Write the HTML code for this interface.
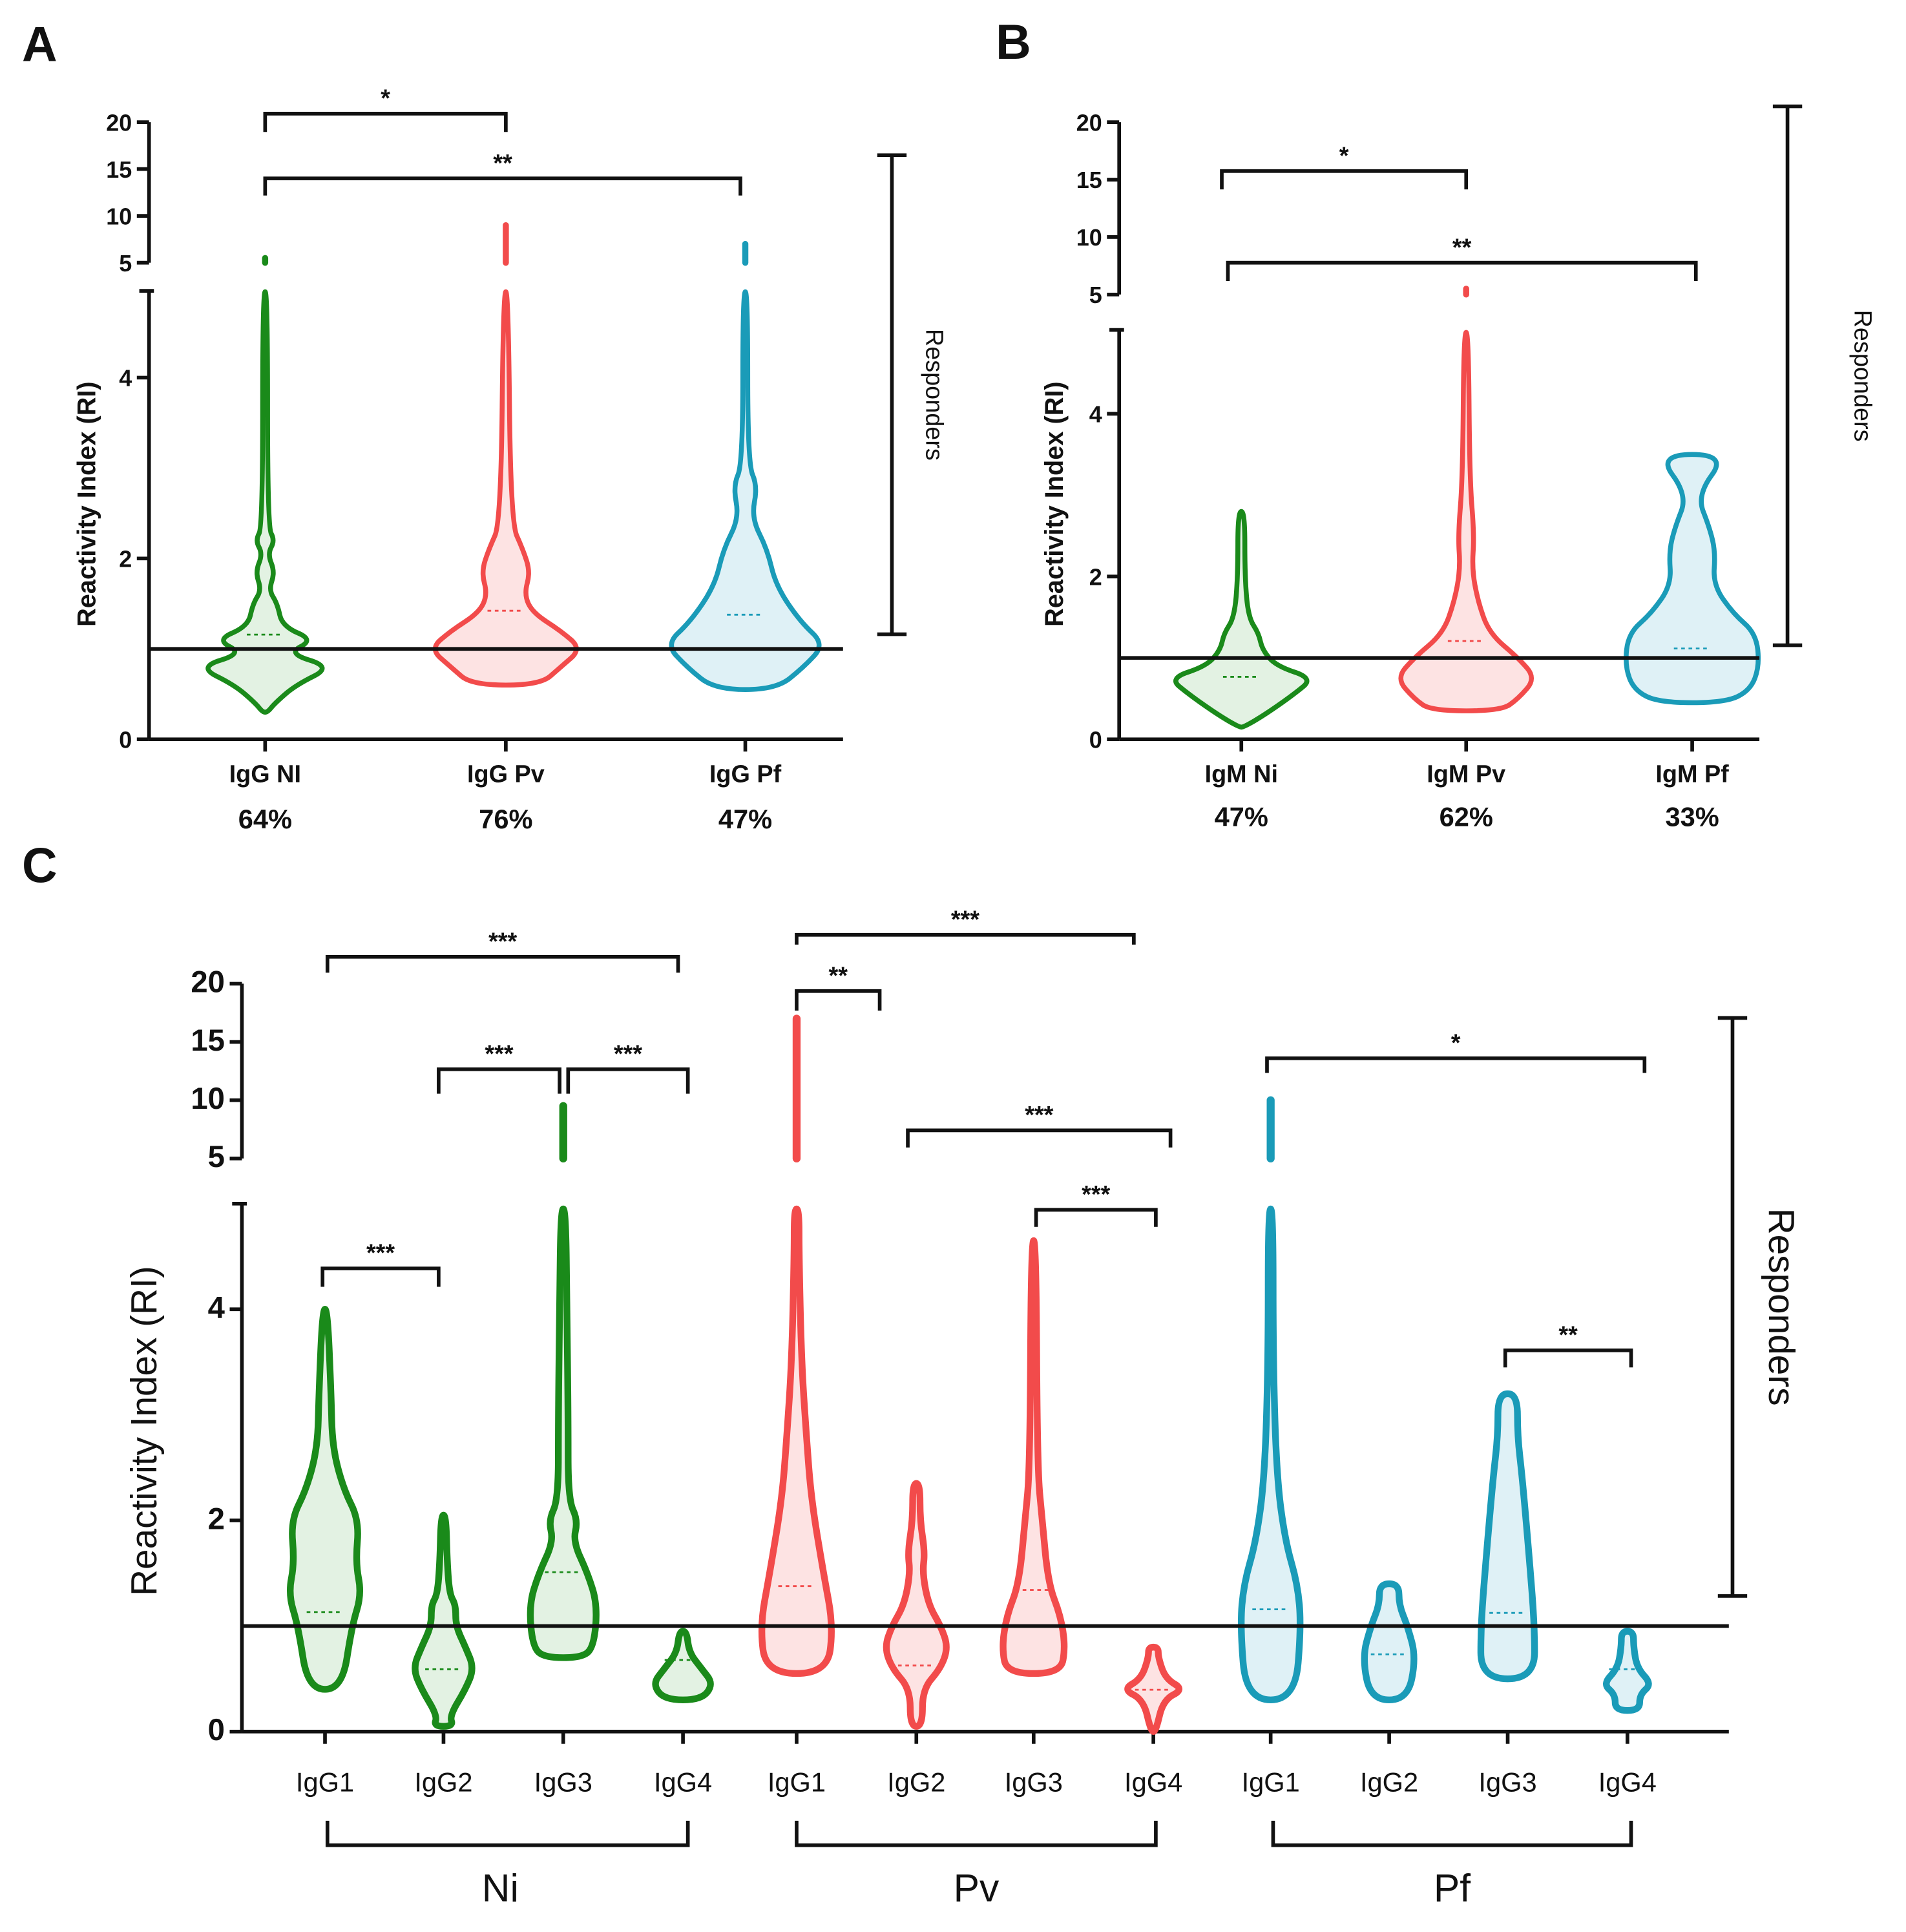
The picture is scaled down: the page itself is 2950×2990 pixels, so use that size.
<!DOCTYPE html>
<html><head><meta charset="utf-8"><style>
html,body{margin:0;padding:0;background:#fff}
svg{display:block}
text{font-family:"Liberation Sans",Arial,sans-serif}
</style></head><body>
<svg id="fig" width="2950" height="2990" viewBox="0 0 1560 1581" preserveAspectRatio="none" xmlns="http://www.w3.org/2000/svg"></svg>
<script>
// ---- data ----
const catsA = ["IgG NI","IgG Pv","IgG Pf"];
const pctA = ["64%","76%","47%"];
const catsB = ["IgM Ni","IgM Pv","IgM Pf"];
const pctB = ["47%","62%","33%"];
const catsC = ["IgG1","IgG2","IgG3","IgG4","IgG1","IgG2","IgG3","IgG4","IgG1","IgG2","IgG3","IgG4"];
const groupsC = ["Ni","Pv","Pf"];
const upperTicks = [5,10,15,20];
const lowerTicks = [0,2,4];
// violin profiles: [value, relative half-width]
const violA = [
 [[0.3,2],[0.4,8],[0.6,25],[0.8,55],[0.95,18],[1.1,40],[1.25,14],[1.5,10],[1.65,3],[1.85,8],[2.05,2],[2.2,8],[2.35,2],[4.95,2]],
 [[0.6,28],[0.8,45],[1.0,62],[1.2,45],[1.4,22],[1.6,15],[1.85,20],[2.1,14],[2.4,4],[4.95,2]],
 [[0.55,25],[0.8,48],[1.05,65],[1.3,45],[1.7,25],[2.1,18],[2.45,5],[2.8,10],[3.05,2],[4.95,2]]
];
const upperA = [5.5, 9, 7];
const violB = [
 [[0.15,2],[0.3,20],[0.55,45],[0.75,62],[0.9,30],[1.1,18],[1.3,15],[1.5,6],[2.0,3],[2.8,3]],
 [[0.35,30],[0.5,45],[0.75,60],[1.0,45],[1.3,20],[1.7,10],[2.1,5],[2.5,7],[3.2,3],[5.0,2]],
 [[0.45,28],[0.6,50],[0.9,58],[1.3,55],[1.55,35],[1.9,18],[2.3,20],[2.6,15],[3.0,4],[3.5,30]]
];
const upperB = [null, 5.5, null];
const violC = [
 [[0.4,14],[1.0,22],[1.3,30],[1.6,25],[2.0,28],[2.3,15],[2.7,6],[3.2,5],[4.0,2]],
 [[0.05,8],[0.15,5],[0.4,18],[0.6,25],[0.8,18],[1.0,10],[1.2,10],[1.3,5],[1.6,3],[2.05,2]],
 [[0.7,15],[0.8,25],[1.2,28],[1.5,20],[1.8,8],[2.0,12],[2.2,4],[3.0,4],[4.0,3],[4.95,2]],
 [[0.3,15],[0.45,25],[0.6,15],[0.75,5],[0.95,3]],
 [[0.55,25],[1.0,30],[1.5,22],[2.2,12],[2.8,8],[3.5,4],[4.5,2],[4.95,2]],
 [[0.05,5],[0.4,5],[0.6,20],[0.8,26],[1.0,20],[1.2,10],[1.5,5],[1.7,7],[2.0,3],[2.35,3]],
 [[0.55,22],[0.8,26],[1.1,22],[1.4,12],[2.0,7],[2.5,3],[4.65,2]],
 [[0.0,2],[0.3,8],[0.4,25],[0.5,10],[0.7,4],[0.8,4]],
 [[0.3,20],[1.0,25],[1.4,22],[1.8,12],[2.4,5],[3.5,2],[4.95,2]],
 [[0.3,15],[0.7,22],[1.0,15],[1.2,8],[1.4,8]],
 [[0.5,22],[1.0,22],[1.6,18],[2.4,12],[2.8,8],[3.2,8]],
 [[0.2,10],[0.35,10],[0.45,20],[0.6,8],[0.8,5],[0.95,5]]
];
const upperC = [null,null,9.5,null,17,null,null,null,10,null,null,null];
const threshold = 1.0;
// ---- rendering ----
const NS="http://www.w3.org/2000/svg";
const svg=document.getElementById('fig');
const colors=["#1a8a1a","#f24b4b","#1a9bb8"];
const fills=["#e3f2e3","#fde3e3","#dff1f6"];
function el(tag,attrs,parent){const e=document.createElementNS(NS,tag);for(const k in attrs)e.setAttribute(k,attrs[k]);(parent||svg).appendChild(e);return e;}
function txt(s,x,y,size,weight,anchor,parent,rot){const t=el('text',{x:x,y:y,'font-size':size,'font-weight':weight||'normal','text-anchor':anchor||'middle',fill:'#111'},parent);if(rot)t.setAttribute('transform',`rotate(${rot} ${x} ${y})`);t.textContent=s;return t;}
function smoothPath(pts){
  // closed smooth path using midpoints + quadratic curves
  const n=pts.length;let d='';
  for(let i=0;i<n;i++){
    const p=pts[i],q=pts[(i+1)%n];
    const m=[(p[0]+q[0])/2,(p[1]+q[1])/2];
    if(i===0){const pr=pts[n-1];d+=`M${(pr[0]+p[0])/2},${(pr[1]+p[1])/2} `;}
    d+=`Q${p[0]},${p[1]} ${m[0]},${m[1]} `;
  }
  return d+'Z';
}
function drawPanel(p,cats,pcts,viols,uppers,colorIdx,fontW){
  const g=el('g',{});
  
  
  const y=v=>p.y0-(Math.min(v,p.lowMax)/p.lowMax)*(p.y0-p.lowTop);
  const yu=v=>p.up5-(v-5)/15*(p.up5-p.up20);
  const ax=el('g',{},g);
  
  
  el('line',{x1:p.x0,y1:p.up20,x2:p.x0,y2:p.up5,stroke:'#111','stroke-width':3},ax);
  el('line',{x1:p.x0,y1:p.lowTop,x2:p.x0,y2:p.y0,stroke:'#111','stroke-width':3},ax);
  el('line',{x1:p.x0-8,y1:p.lowTop,x2:p.x0+4,y2:p.lowTop,stroke:'#111','stroke-width':3},ax);
  upperTicks.forEach(t=>{const yy=yu(t);el('line',{x1:p.x0-10,y1:yy,x2:p.x0,y2:yy,stroke:'#111','stroke-width':3},ax);txt(String(t),p.x0-14,yy+7,p.tick,'bold','end',ax);});
  lowerTicks.forEach(t=>{const yy=y(t);el('line',{x1:p.x0-10,y1:yy,x2:p.x0,y2:yy,stroke:'#111','stroke-width':3},ax);txt(String(t),p.x0-14,yy+7,p.tick,'bold','end',ax);});
  const yt=txt('Reactivity Index (RI)',p.ytx,(p.up20+p.y0)/2+60,p.ytSize,p.ytW,'middle',ax,-90);
  
  el('line',{x1:p.x0,y1:p.y0,x2:p.x1,y2:p.y0,stroke:'#111','stroke-width':3},g);
  cats.forEach((c,i)=>{
    const x=p.xs[i];
    el('line',{x1:x,y1:p.y0,x2:x,y2:p.y0+10,stroke:'#111','stroke-width':3},g);
    const t=txt(c,x,p.labY,p.lab,fontW,'middle',g);
    
    if(pcts){const q=txt(pcts[i],x,p.pctY,p.lab+2,'bold','middle',g);}
  });
  viols.forEach((prof,i)=>{
    const ci=colorIdx(i);const x=p.xs[i];const k=p.wScale;
    const right=prof.map(d=>[x+d[1]*k,y(d[0])]);
    const left=prof.slice().reverse().map(d=>[x-d[1]*k,y(d[0])]);
    const v=el('path',{d:smoothPath(right.concat(left)),fill:fills[ci],stroke:colors[ci],'stroke-width':p.sw,'stroke-linejoin':'round'},g);
    
    
    let med=prof[0][0]+(prof[prof.length-1][0]-prof[0][0])*0.12+0.3;
    el('line',{x1:x-15,y1:y(med),x2:x+15,y2:y(med),stroke:colors[ci],'stroke-width':1.5,'stroke-dasharray':'3,3'},g);
    if(uppers[i]!=null){
      const u=el('line',{x1:x,y1:yu(5),x2:x,y2:yu(uppers[i]),stroke:colors[ci],'stroke-width':p.sw+1,'stroke-linecap':'round'},g);
      
    }
  });
  const th=el('line',{x1:p.x0,y1:y(threshold),x2:p.x1,y2:y(threshold),stroke:'#111','stroke-width':3},g);
  
  const rb=el('g',{},g);
  
  
  el('line',{x1:p.rx,y1:p.ry1,x2:p.rx,y2:p.ry2,stroke:'#111','stroke-width':3},rb);
  el('line',{x1:p.rx-12,y1:p.ry1,x2:p.rx+12,y2:p.ry1,stroke:'#111','stroke-width':3},rb);
  el('line',{x1:p.rx-12,y1:p.ry2,x2:p.rx+12,y2:p.ry2,stroke:'#111','stroke-width':3},rb);
  txt('Responders',p.rtx,(p.ry1+p.ry2)/2,p.rtSize,'normal','middle',rb,90);
  p.br.forEach(b=>{
    const bg=el('g',{},g);
    
    
    el('polyline',{points:`${b[0]},${b[2]+b[4]} ${b[0]},${b[2]} ${b[1]},${b[2]} ${b[1]},${b[2]+b[4]}`,fill:'none',stroke:'#111','stroke-width':3},bg);
    txt(b[3],(b[0]+b[1])/2,b[2]-6,p.starSize,'bold','middle',bg);
  });
  return g;
}
[['A',18,50],['B',815,48],['C',18,722]].forEach(l=>{const t=txt(l[0],l[1],l[2],40,'bold','start');});

drawPanel({name:'panel-a',x0:122,x1:690,y0:605,lowTop:238,lowMax:4.96,up5:215,up20:100,xs:[217,414,610],labY:640,pctY:678,lab:20,tick:19,
  ytx:78,ytSize:21,ytW:'bold',wScale:1,sw:4,rx:730,ry1:127,ry2:519,rtx:758,rtSize:20,starSize:20,
  br:[[217,414,93,'*',15],[217,606,146,'**',14]]},catsA,pctA,violA,upperA,i=>i,'bold');
drawPanel({name:'panel-b',x0:916,x1:1440,y0:605,lowTop:270,lowMax:5.03,up5:241,up20:100,xs:[1016,1200,1385],labY:640,pctY:676,lab:20,tick:19,
  ytx:870,ytSize:21,ytW:'bold',wScale:0.95,sw:4,rx:1463,ry1:87,ry2:528,rtx:1518,rtSize:20,starSize:20,
  br:[[1000,1200,140,'*',15],[1005,1388,215,'**',15]]},catsB,pctB,violB,upperB,i=>i,'bold');
drawPanel({name:'panel-c',x0:198,x1:1415,y0:1417,lowTop:985,lowMax:5.0,up5:948,up20:805,xs:[266,363,461,559,652,750,846,944,1040,1137,1234,1332],labY:1466,pctY:null,lab:22,tick:25,
  ytx:128,ytSize:30,ytW:'normal',wScale:1,sw:5.5,rx:1418,ry1:833,ry2:1306,rtx:1448,rtSize:30,starSize:20,
  br:[[268,555,783,'***',13],[359,458,875,'***',20],[465,563,875,'***',20],[264,359,1038,'***',15],[652,720,811,'**',16],[652,928,765,'***',8],[743,958,925,'***',14],[848,946,990,'***',14],[1037,1346,866,'*',12],[1232,1335,1105,'**',14]]},
  catsC,null,violC,upperC,i=>Math.floor(i/4),'normal');
const gx=[[268,563],[652,946],[1042,1335]];
groupsC.forEach((gname,i)=>{
  const gg=el('g',{});
  
  
  el('polyline',{points:`${gx[i][0]},1490 ${gx[i][0]},1510 ${gx[i][1]},1510 ${gx[i][1]},1490`,fill:'none',stroke:'#111','stroke-width':3},gg);
  txt(gname,(gx[i][0]+gx[i][1])/2+(i==0?-6:0),1556,32,'normal','middle',gg);
});
</script>
</body></html>
